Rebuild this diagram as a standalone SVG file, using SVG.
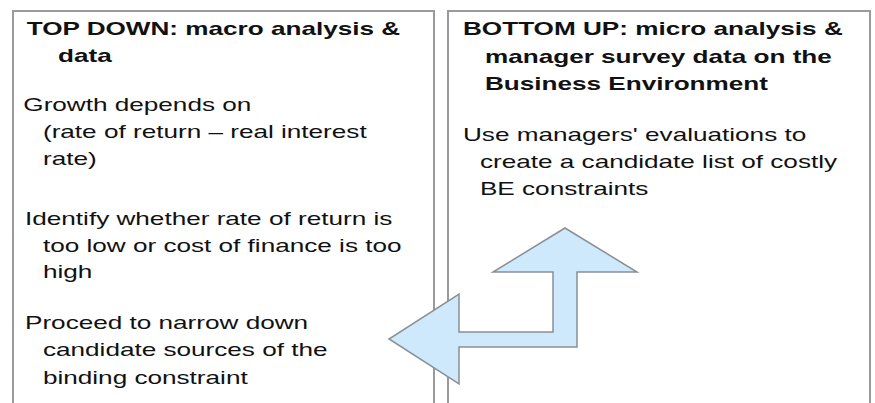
<svg xmlns="http://www.w3.org/2000/svg" width="875" height="403" viewBox="0 0 875 403">
<style>
.box{fill:#fff;stroke:#9a9a9a;stroke-width:2}
.t{font-family:"Liberation Sans",Arial,sans-serif;font-size:18.8px;fill:#111}
.b{font-weight:bold}
.arrow{fill:#cde9fb;stroke:#8a8f94;stroke-width:1.5;stroke-linejoin:miter}
</style>
<rect width="875" height="403" fill="#fff"/>
<g id="topdown">
<rect class="box" x="13" y="11" width="421" height="400"/>
<g transform="scale(1.39,1)">
<text class="t b" x="19.2" y="35.5">TOP DOWN: macro analysis &amp;</text>
<text class="t b" x="41.7" y="62.5">data</text>
<text class="t" x="16.8" y="111">Growth depends on</text>
<text class="t" x="30.9" y="138">(rate of return – real interest</text>
<text class="t" x="30.9" y="165">rate)</text>
<text class="t" x="18" y="225">Identify whether rate of return is</text>
<text class="t" x="30.9" y="252">too low or cost of finance is too</text>
<text class="t" x="30.9" y="278">high</text>
<text class="t" x="18" y="329">Proceed to narrow down</text>
<text class="t" x="30.9" y="356">candidate sources of the</text>
<text class="t" x="30.9" y="384">binding constraint</text>
</g>
</g>
<g id="bottomup">
<rect class="box" x="448" y="11" width="422" height="400"/>
<g transform="scale(1.39,1)">
<text class="t b" x="333.1" y="35.5">BOTTOM UP: micro analysis &amp;</text>
<text class="t b" x="348.9" y="63">manager survey data on the</text>
<text class="t b" x="348.9" y="90">Business Environment</text>
<text class="t" x="333.1" y="141">Use managers' evaluations to</text>
<text class="t" x="345.3" y="168">create a candidate list of costly</text>
<text class="t" x="345.3" y="195">BE constraints</text>
</g>
</g>
<g id="connectors">
<polygon class="arrow" points="565,228 637,272 577,272 577,347 459,347 459,384 389,339 459,294 459,332 553,332 553,272 493,272"/>
</g>
</svg>
